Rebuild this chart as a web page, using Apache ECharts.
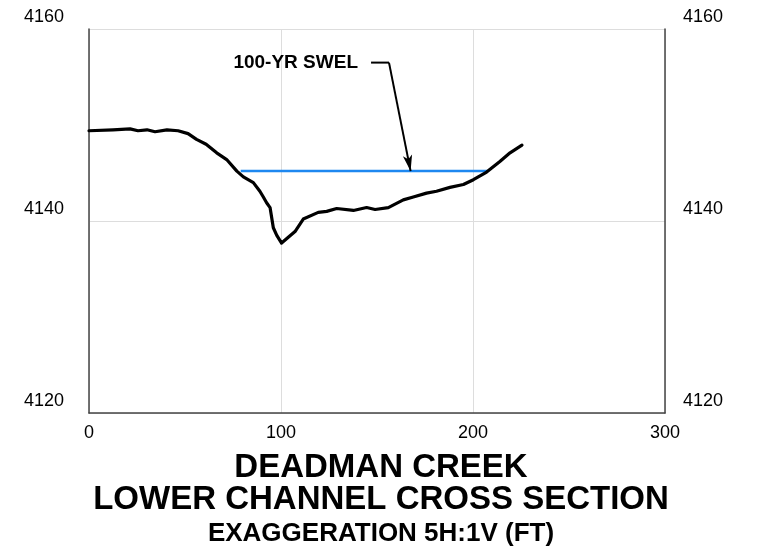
<!DOCTYPE html>
<html>
<head>
<meta charset="utf-8">
<script src="https://cdn.jsdelivr.net/npm/echarts@6/dist/echarts.min.js"></script>
<style>
html,body{margin:0;padding:0;background:#fff;}
#chart{width:762px;height:556px;}
</style>
</head>
<body>
<div id="chart"></div>
<script>
// Ground profile (station ft, elevation ft)
var stations = [0, 12.5, 21.4, 25.5, 30.2, 34.4, 40.6, 46.4, 51.6, 56, 61, 66.5, 71.7, 77, 80.4, 85.6, 89, 90.8, 92.5, 94.3, 96, 97.8, 100.3, 107.3, 111.6, 119.4, 123.8, 129, 137.7, 144.6, 149, 155.9, 163.7, 168.9, 175.8, 181, 188, 195, 200.2, 207.1, 214, 219.3, 225.5];
var elevations = [4149.4, 4149.5, 4149.6, 4149.4, 4149.5, 4149.3, 4149.5, 4149.4, 4149.1, 4148.5, 4148.0, 4147.1, 4146.4, 4145.2, 4144.6, 4144.0, 4143.1, 4142.5, 4141.9, 4141.4, 4139.3, 4138.5, 4137.7, 4138.9, 4140.2, 4140.9, 4141.0, 4141.3, 4141.1, 4141.4, 4141.2, 4141.4, 4142.2, 4142.5, 4142.9, 4143.1, 4143.5, 4143.8, 4144.3, 4145.1, 4146.2, 4147.1, 4147.9];
// 100-yr water surface elevation
var swelStations = [79, 207.3];
var swelElev = [4145.2, 4145.2];
// Leader for annotation
var leaderX = [146.9, 156.25, 167.5];
var leaderY = [4156.5, 4156.5, 4145.2];
var annotationText = '100-YR SWEL';
// Axis
var xTicks = [0, 100, 200, 300];
var yTicks = [4120, 4140, 4160];
var titleLines = ['DEADMAN CREEK', 'LOWER CHANNEL CROSS SECTION'];
var subtitle = 'EXAGGERATION 5H:1V (FT)';

var FONT = '"Liberation Sans", Arial, Helvetica, sans-serif';
var chart = echarts.init(document.getElementById('chart'), null, {renderer: 'canvas'});

function zip(a, b) { return a.map(function (v, i) { return [v, b[i]]; }); }
function plain(v) { return String(v); }

var yLabel = {
  fontFamily: FONT, fontSize: 18, color: '#000', formatter: plain,
  verticalAlign: 'bottom', padding: [0, 0, 3, 0]
};

chart.setOption({
  animation: false,
  backgroundColor: '#fff',
  title: [
    {text: titleLines.join('\n'), left: 'center', top: 447,
     textStyle: {fontFamily: FONT, fontSize: 33, fontWeight: 'bold', color: '#000', lineHeight: 32}},
    {text: subtitle, left: 'center', top: 514,
     textStyle: {fontFamily: FONT, fontSize: 26, fontWeight: 'bold', color: '#000', lineHeight: 30}}
  ],
  grid: {left: 89, right: 97, top: 29, bottom: 143, containLabel: false},
  xAxis: {
    type: 'value', min: 0, max: 300, interval: 100,
    axisLine: {show: true, lineStyle: {color: '#444', width: 1.5}},
    axisTick: {show: false},
    axisLabel: {fontFamily: FONT, fontSize: 18, color: '#000', margin: 11, formatter: plain},
    splitLine: {show: true, lineStyle: {color: '#ddd', width: 1}}
  },
  yAxis: [
    {type: 'value', min: 4120, max: 4160, interval: 20, position: 'left',
     axisLine: {show: true, lineStyle: {color: '#444', width: 1.5}},
     axisTick: {show: false},
     axisLabel: Object.assign({margin: 25}, yLabel),
     splitLine: {show: true, lineStyle: {color: '#ddd', width: 1}}},
    {type: 'value', min: 4120, max: 4160, interval: 20, position: 'right',
     axisLine: {show: true, lineStyle: {color: '#444', width: 1.5}},
     axisTick: {show: false},
     axisLabel: Object.assign({margin: 18}, yLabel),
     splitLine: {show: false}}
  ],
  series: [
    {type: 'line', data: zip(swelStations, swelElev), symbol: 'none',
     lineStyle: {color: '#1e88f0', width: 2.5}, z: 2},
    {type: 'line', data: zip(stations, elevations), symbol: 'none',
     lineStyle: {color: '#000', width: 3.2, join: 'round', cap: 'round'}, z: 3},
    {type: 'line', data: zip(leaderX.slice(0, 2), leaderY.slice(0, 2)), symbol: 'none',
     lineStyle: {color: '#000', width: 2}, z: 4,
     markLine: {
       silent: true, animation: false,
       symbol: ['none', 'arrow'], symbolSize: [7, 16],
       lineStyle: {color: '#000', width: 2, type: 'solid'},
       label: {show: false},
       data: [[{coord: [leaderX[1], leaderY[1]]}, {coord: [leaderX[2], leaderY[2]]}]]
     }},
    {type: 'scatter', data: [[leaderX[0], leaderY[0]]], symbolSize: 0.1, z: 5,
     itemStyle: {opacity: 1, color: '#000'},
     label: {show: true, position: 'left', distance: 13, formatter: annotationText,
             fontFamily: FONT, fontSize: 19, fontWeight: 'bold', color: '#000', opacity: 1}}
  ]
});
</script>
</body>
</html>
